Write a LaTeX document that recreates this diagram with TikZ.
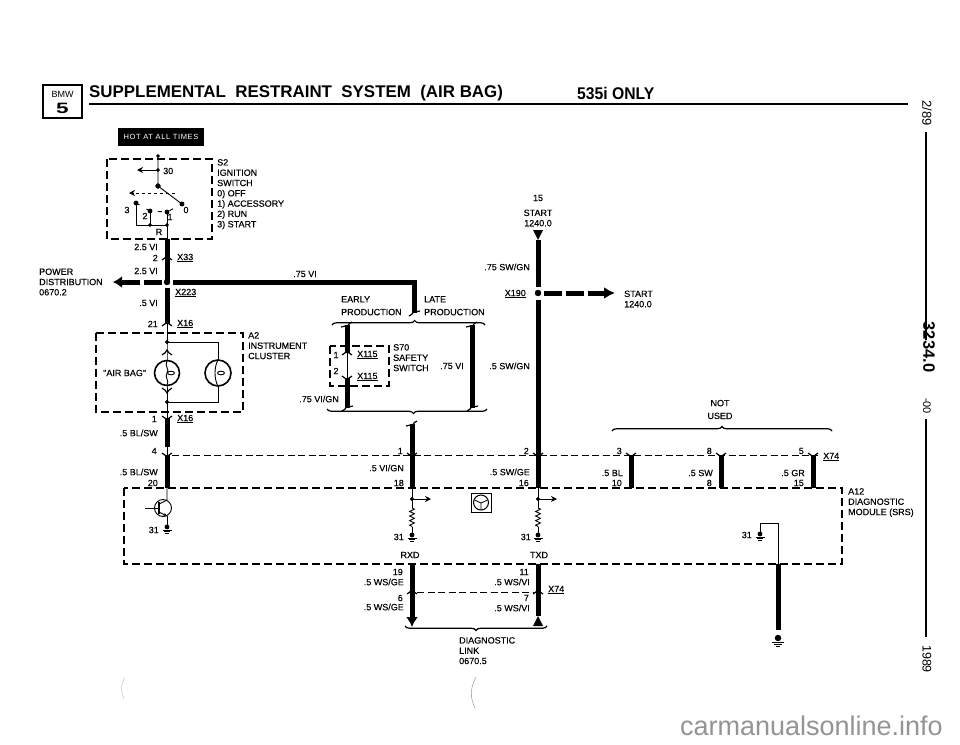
\documentclass[tikz,border=0pt]{standalone}
\usepackage{fontspec}
\setmainfont{Liberation Sans}
\newfontfamily\lblfam[FakeBold=0.25]{Liberation Sans}
\usetikzlibrary{arrows.meta,decorations.pathreplacing,decorations.pathmorphing}
\newcommand{\lblfont}{\lblfam\fontsize{9}{10.3}\selectfont}
\tikzset{
	wire/.style={line width=5pt},
	thinwire/.style={line width=0.9pt},
	boxline/.style={line width=1.5pt, dash pattern=on 8pt off 4pt},
	dashwire/.style={line width=0.8pt, dash pattern=on 7pt off 3.5pt},
	lbl/.style={font=\lblfont, inner sep=0pt, align=left},
	rlbl/.style={lbl, anchor=east},
	llbl/.style={lbl, anchor=west},
	clbl/.style={lbl, align=center},
	bracket/.style={line width=1.2pt, decorate, decoration={brace, amplitude=4.5pt, aspect=#1}},
	bracket/.default=0.5,
	sidetext/.style={inner sep=0pt, rotate=-90},
	pinup/.pic={\draw[line width=1.2pt] (-5,2) .. controls (-2,0.5) and (-1,-1) .. (0,-3) .. controls (1,-1) and (2,0.5) .. (5,2);},
	pindn/.pic={\draw[line width=1.2pt] (-5,-2) .. controls (-2,-0.5) and (-1,1) .. (0,3) .. controls (1,1) and (2,-0.5) .. (5,-2);},
	curlup/.pic={\draw[line width=1.2pt] (-6,2) .. controls (-3,3) and (-2,-1) .. (0,2) .. controls (1,-1) and (3,-2) .. (5,-3);},
	curldn/.pic={\draw[line width=1.2pt] (-5,3) .. controls (-3,2) and (-1,1) .. (0,-2) .. controls (2,1) and (3,-3) .. (6,-2);},
	gnd/.pic={\fill (0,0) circle (2.4pt);
		\draw[line width=0.7pt] (-4.5,3.2) -- (4.5,3.2) (-3.2,4.8) -- (3.2,4.8) (-1.6,6.3) -- (1.6,6.3);}
}
\begin{document}
\begin{tikzpicture}[x=1pt,y=-1pt]
	\useasboundingbox (0,0) rectangle (960,744);
	\fill[white] (0,0) rectangle (960,744);
	% header
	\draw[line width=2.2pt] (43,85) rectangle (82,118);
	\node[inner sep=0pt, font=\fontsize{9}{10}\selectfont] (badgeTop) at (62.5,94) {BMW};
	\node[inner sep=0pt, font=\bfseries\fontsize{15}{15}\selectfont, xscale=1.5] (badgeNum) at (62.5,108) {5};
	\node[anchor=west, inner sep=0pt, font=\bfseries\fontsize{16.9}{17}\selectfont] (title) at (89,93) {SUPPLEMENTAL\ \ RESTRAINT\ \ SYSTEM\ \ (AIR BAG)};
	\node[anchor=west, inner sep=0pt, xscale=0.93, font=\bfseries\fontsize{16.9}{17}\selectfont] (only) at (577,93) {535i ONLY};
	\coordinate (ruleL) at (89,104);
	\coordinate (ruleR) at (908,104);
	\draw[line width=1.6pt] (ruleL) -- (ruleR);
	\node[fill=black, text=white, inner sep=0pt, minimum width=86pt, minimum height=18pt, font=\fontsize{7.5}{8}\selectfont\addfontfeature{LetterSpace=8}] (hot) at (161,137) {HOT AT ALL TIMES};
	% side margin
	\node[sidetext, font=\fontsize{13}{13}\selectfont] (sideDate) at (927,113) {2/89};
	\node[sidetext, font=\fontsize{16.5}{17}\bfseries\selectfont, anchor=north] (sideNum) at (935,347) {3234.0};
	\node[sidetext, font=\fontsize{11}{11}\selectfont] (sideSub) at (927,406) {-00};
	\node[sidetext, font=\fontsize{12.5}{13}\selectfont] (sideYear) at (927,659) {1989};
	\draw[line width=1.2pt] (sideDate.east) ++(-1,6) -- (926,340);
	\draw[line width=1.2pt] (sideSub.east) ++(-1,5) -- (926,637);
	% ignition switch
	\draw[boxline] (107,159) rectangle (212,239);
	\coordinate (sTop) at (158,156);
	\coordinate (s30) at (158,170);
	\coordinate (sOut) at (137,170);
	\coordinate (sPiv) at (158,186);
	\coordinate (sZero) at (182,204);
	\coordinate (sThree) at (136,203);
	\coordinate (sTwo) at (150,211);
	\coordinate (sOne) at (167,212);
	\coordinate (sBend) at (136,225);
	\coordinate (sDotA) at (150,225);
	\coordinate (sDotB) at (167,225);
	\coordinate (sExit) at (167,239);
	\coordinate (sMid) at (175,193);
	\coordinate (sLeft) at (129,193);
	\draw[thinwire] (sTop) -- (sPiv) -- (sZero);
	\draw[thinwire, -{Stealth[length=6pt,width=6pt]}] (s30) -- (sOut);
	\draw[thinwire, dashed, -{Stealth[length=6pt,width=6pt]}] (sMid) -- (sLeft);
	\draw[thinwire, dash pattern=on 4pt off 8pt] (sThree) -- (sTwo) -- (sOne) -- (sZero);
	\draw[thinwire] (sThree) -- (sBend) -- (sDotB) -- (sExit);
	\draw[thinwire] (sTwo) -- (sDotA);
	\draw[thinwire] (sOne) -- (sDotB);
	\filldraw (sTop) circle (1.6pt);
	\filldraw (s30) circle (1.6pt);
	\filldraw (sPiv) circle (2.4pt);
	\filldraw (sZero) circle (2.2pt);
	\filldraw (sThree) circle (2.2pt);
	\filldraw (sTwo) circle (2.2pt);
	\filldraw (sOne) circle (2.2pt);
	\filldraw (sDotA) circle (1.6pt);
	\filldraw (sDotB) circle (1.6pt);
	\node[llbl] (t30) at (163,171) {30};
	\node[clbl] (tThree) at (127,210) {3};
	\node[clbl] (tTwo) at (145,216) {2};
	\node[clbl] (tOne) at (170,217) {1};
	\node[clbl] (tZero) at (186,210) {0};
	\node[clbl] (tR) at (159,232) {R};
	\node[lbl, anchor=north west] (s2Text) at (217,159) {S2\\IGNITION\\SWITCH\\0) OFF\\1) ACCESSORY\\2) RUN\\3) START};
	% feed down to the cluster
	\coordinate (x33) at (167,258);
	\coordinate (jPower) at (167,282);
	\coordinate (x223) at (167,288);
	\coordinate (x16a) at (167,324);
	\coordinate (a2Top) at (167,333);
	\coordinate (jLeft) at (162,282);
	\coordinate (pwrOut) at (113,282);
	\coordinate (jRight) at (173,282);
	\coordinate (vCorner) at (414,282);
	\coordinate (vEnd) at (414,313);
	\draw[wire] (sExit) -- (x33);
	\draw[wire] (x33) -- (jPower);
	\draw[wire] (x223) -- (x16a);
	\draw[thinwire] (x16a) -- (a2Top);
	\draw[wire, dash pattern=on 18pt off 4pt, -{Latex[length=9pt,width=12pt]}] (jLeft) -- (pwrOut);
	\draw[wire] (jRight) -- (vCorner) -- (vEnd);
	\filldraw (jPower) circle (3pt);
	\pic at (x33) {pinup};
	\pic at (x16a) {pinup};
	\node[rlbl] (w25a) at (158,247) {2.5 VI};
	\node[rlbl] (p2) at (158,258) {2};
	\node[llbl] (tX33) at (177,258) {\underline{X33}};
	\node[rlbl] (w25b) at (158,271) {2.5 VI};
	\node[clbl] (w75a) at (305,274) {.75 VI};
	\node[llbl] (tX223) at (175,293) {\underline{X223}};
	\node[rlbl] (w5a) at (158,303) {.5 VI};
	\node[rlbl] (p21) at (158,324) {21};
	\node[llbl] (tX16a) at (177,324) {\underline{X16}};
	\node[lbl, anchor=west] (powerText) at (39,282) {POWER\\DISTRIBUTION\\0670.2};
	% instrument cluster
	\draw[boxline] (96,333) rectangle (243,412);
	\coordinate (aTop) at (167,342);
	\coordinate (aBot) at (167,402);
	\coordinate (bTop) at (218,342);
	\coordinate (bBot) at (218,402);
	\coordinate (lampA) at (167,373);
	\coordinate (lampB) at (218,373);
	\coordinate (x16b) at (167,418);
	\coordinate (x16bEnd) at (167,447);
	\coordinate (pin4) at (167,455);
	\coordinate (pin20) at (167,488);
	\draw[thinwire] (a2Top) -- (aTop) -- (bTop) -- (bBot) -- (aBot) -- (x16b);
	\draw[thinwire] (aTop) -- (lampA) -- (aBot);
	\draw[line width=1.6pt, fill=white] (lampA) circle (12.5pt);
	\draw[line width=1.6pt, fill=white] (lampB) circle (13pt);
	\draw[thinwire] (167,361) .. controls (164,366) and (170,369) .. (167,373) .. controls (164,377) and (170,381) .. (167,385);
	\draw[thinwire] (171,373) ellipse (3.5pt and 1.8pt);
	\draw[thinwire] (218,360) .. controls (214,367) and (214,379) .. (218,386);
	\draw[thinwire] (221,373) ellipse (3.5pt and 1.8pt);
	\pic at (167,353) {pinup};
	\pic at (167,390) {pindn};
	\filldraw (aTop) circle (1.8pt);
	\filldraw (aBot) circle (1.8pt);
	\draw[wire] (x16b) -- (x16bEnd);
	\draw[thinwire] (x16bEnd) -- (pin4);
	\draw[wire] (pin4) -- (pin20);
	\pic at (x16b) {pindn};
	\pic at (pin4) {pindn};
	\node[lbl, anchor=north west] (a2Text) at (248,332) {A2\\INSTRUMENT\\CLUSTER};
	\node[llbl] (airBag) at (103,373) {"AIR BAG"};
	\node[rlbl] (p1a) at (157,419) {1};
	\node[llbl] (tX16b) at (177,419) {\underline{X16}};
	\node[rlbl] (w5b) at (158,433) {.5 BL/SW};
	\node[rlbl] (p4) at (157,451) {4};
	\node[rlbl] (w5c) at (158,472) {.5 BL/SW};
	\node[rlbl] (p20) at (158,483) {20};
	% early and late production
	\coordinate (brTopL) at (332,325);
	\coordinate (brTopR) at (485,325);
	\coordinate (brLowL) at (327,409);
	\coordinate (brLowR) at (487,409);
	\coordinate (eTop) at (347,325);
	\coordinate (eUp) at (347,353);
	\coordinate (eDn) at (347,378);
	\coordinate (eEnd) at (347,408);
	\coordinate (lTop) at (472,325);
	\coordinate (lEnd) at (472,408);
	\draw[bracket=0.54] (brTopL) -- (brTopR);
	\draw[bracket=0.46] (brLowR) -- (brLowL);
	\draw[wire] (eTop) -- (eUp);
	\draw[thinwire] (eUp) -- (eDn);
	\draw[wire] (eDn) -- (eEnd);
	\draw[wire] (lTop) -- (lEnd);
	\pic at (vEnd) {curldn};
	\pic at (eTop) {curlup};
	\pic at (lTop) {curlup};
	\pic at (eEnd) {curldn};
	\pic at (lEnd) {curldn};
	\pic at (eUp) {pinup};
	\pic at (eDn) {pindn};
	\draw[boxline] (330,346) rectangle (389,386);
	\node[lbl, anchor=north west] (earlyText) at (341,296) {EARLY\\[2.5pt]PRODUCTION};
	\node[lbl, anchor=north west] (lateText) at (424,296) {LATE\\[2.5pt]PRODUCTION};
	\node[clbl] (p1b) at (336,355) {1};
	\node[clbl] (p2b) at (336,371) {2};
	\node[llbl] (tX115a) at (357,355) {\underline{X115}};
	\node[llbl] (tX115b) at (357,377) {\underline{X115}};
	\node[lbl, anchor=north west] (s70Text) at (393,344) {S70\\SAFETY\\SWITCH};
	\node[clbl] (w75b) at (452,366) {.75 VI};
	\node[rlbl] (w75c) at (339,399) {.75 VI/GN};
	% start feed
	\coordinate (stTop) at (538,240);
	\coordinate (stMid) at (538,287);
	\coordinate (jStart) at (538,293);
	\coordinate (stLow) at (538,300);
	\coordinate (stOutA) at (544,293);
	\coordinate (stOutB) at (615,293);
	\coordinate (pinRx) at (412,455);
	\coordinate (pinTx) at (538,455);
	\coordinate (rxTop) at (412,424);
	\coordinate (rxIn) at (412,488);
	\coordinate (txIn) at (538,488);
	\fill (533,230) -- (543,230) -- (stTop) -- cycle;
	\draw[wire] (stTop) -- (stMid);
	\draw[wire] (stLow) -- (pinTx);
	\draw[wire, dash pattern=on 18pt off 4pt, -{Latex[length=11pt,width=12pt]}] (stOutA) -- (stOutB);
	\filldraw (jStart) circle (3pt);
	\draw[wire] (rxTop) -- (pinRx);
	\draw[wire] (pinRx) -- (rxIn);
	\draw[wire] (pinTx) -- (txIn);
	\pic at (rxTop) {curlup};
	\pic at (pinRx) {pindn};
	\pic at (pinTx) {pindn};
	\node[clbl] (t15) at (538,198) {15};
	\node[clbl] (startA) at (538,218) {START\\1240.0};
	\node[rlbl] (w75d) at (530,267) {.75 SW/GN};
	\node[rlbl] (tX190) at (526,294) {\underline{X190}};
	\node[lbl, anchor=west] (startB) at (624,299) {START\\1240.0};
	\node[rlbl] (w5d) at (530,366) {.5 SW/GN};
	% diagnostic module
	\coordinate (pinA) at (631,455);
	\coordinate (pinB) at (721,455);
	\coordinate (pinC) at (813,455);
	\coordinate (inA) at (631,488);
	\coordinate (inB) at (721,488);
	\coordinate (inC) at (813,488);
	\coordinate (brNuL) at (612,431);
	\coordinate (brNuR) at (832,431);
	\coordinate (dashL) at (172,455);
	\coordinate (dashR) at (818,455);
	\draw[dashwire] (dashL) -- (dashR);
	\draw[bracket] (brNuL) -- (brNuR);
	\draw[wire] (pinA) -- (inA);
	\draw[wire] (pinB) -- (inB);
	\draw[wire] (pinC) -- (inC);
	\pic at (pinA) {pindn};
	\pic at (pinB) {pindn};
	\pic at (pinC) {pindn};
	\draw[boxline] (124,488) rectangle (842,564);
	\node[clbl] (notUsed) at (720,409.5) {NOT\\[2.5pt]USED};
	\node[rlbl] (p3) at (622,451) {3};
	\node[rlbl] (p8a) at (712,451) {8};
	\node[rlbl] (p5a) at (804,451) {5};
	\node[llbl] (tX74a) at (823,457) {\underline{X74}};
	\node[rlbl] (w5e) at (623,473) {.5 BL};
	\node[rlbl] (w5f) at (713,473) {.5 SW};
	\node[rlbl] (w5g) at (805,473) {.5 GR};
	\node[rlbl] (p10) at (622,483) {10};
	\node[rlbl] (p8b) at (712,483) {8};
	\node[rlbl] (p15) at (804,483) {15};
	\node[rlbl] (p1c) at (403,451) {1};
	\node[rlbl] (w5h) at (404,468) {.5 VI/GN};
	\node[rlbl] (p18) at (404,483) {18};
	\node[rlbl] (p2c) at (529,451) {2};
	\node[rlbl] (w5i) at (530,472) {.5 SW/GE};
	\node[rlbl] (p16) at (529,483) {16};
	\node[lbl, anchor=north west] (a12Text) at (848,488) {A12\\DIAGNOSTIC\\MODULE (SRS)};
	% inside the module
	\coordinate (tEntry) at (167,500);
	\coordinate (tBase) at (145,508);
	\coordinate (tExit) at (167,516);
	\coordinate (tGnd) at (167,527);
	\draw[thinwire] (pin20) -- (tEntry) -- (159,504);
	\draw[thinwire] (tBase) -- (159,508);
	\draw[line width=1.2pt] (159,502) -- (159,514);
	\draw[thinwire, -{Stealth[length=3.5pt,width=3.5pt]}] (159,512) -- (tExit);
	\draw[thinwire] (tExit) -- (tGnd);
	\draw[thinwire] (163,508) circle (8.5pt);
	\pic at (tGnd) {gnd};
	\node[rlbl] (g31a) at (159,530) {31};
	\coordinate (rxJ) at (412,499);
	\coordinate (rxOut) at (431,499);
	\coordinate (rxA) at (412,508);
	\coordinate (rxB) at (412,527);
	\coordinate (rxGnd) at (412,535);
	\coordinate (txJ) at (538,499);
	\coordinate (txOut) at (557,499);
	\coordinate (txA) at (538,508);
	\coordinate (txB) at (538,527);
	\coordinate (txGnd) at (538,535);
	\draw[thinwire] (rxIn) -- (rxA);
	\draw[thinwire, decorate, decoration={zigzag, amplitude=2.4pt, segment length=4.6pt}] (rxA) -- (rxB);
	\draw[thinwire] (rxB) -- (rxGnd);
	\draw[thinwire, -{Stealth[length=6pt,width=6pt]}] (rxJ) -- (rxOut);
	\filldraw (rxJ) circle (1.8pt);
	\pic at (rxGnd) {gnd};
	\draw[thinwire] (txIn) -- (txA);
	\draw[thinwire, decorate, decoration={zigzag, amplitude=2.4pt, segment length=4.6pt}] (txA) -- (txB);
	\draw[thinwire] (txB) -- (txGnd);
	\draw[thinwire, -{Stealth[length=6pt,width=6pt]}] (txJ) -- (txOut);
	\filldraw (txJ) circle (1.8pt);
	\pic at (txGnd) {gnd};
	\node[rlbl] (g31b) at (404,537) {31};
	\node[rlbl] (g31c) at (531,537) {31};
	\node[clbl] (rxd) at (410,555) {RXD};
	\node[clbl] (txd) at (539,555) {TXD};
	% wheel symbol
	\draw[line width=0.7pt] (471,493) rectangle (491,512);
	\draw[line width=1pt] (481,502.5) circle (7.5pt);
	\draw[line width=0.8pt] (474.5,500) -- (481,503) -- (487.5,500) (481,503) -- (481,510);
	% module ground and body ground
	\coordinate (mOut) at (778,564);
	\coordinate (mUp) at (778,523);
	\coordinate (mLeft) at (760,523);
	\coordinate (mGnd) at (760,534);
	\coordinate (mEnd) at (778,630);
	\coordinate (bodyGnd) at (778,638);
	\draw[thinwire] (mOut) -- (mUp) -- (mLeft) -- (mGnd);
	\pic at (mGnd) {gnd};
	\draw[wire] (mOut) -- (mEnd);
	\pic[scale=1.35] at (bodyGnd) {gnd};
	\node[rlbl] (g31d) at (752,535) {31};
	% diagnostic link
	\coordinate (rxOutA) at (412,564);
	\coordinate (rxPin) at (412,592);
	\coordinate (rxTip) at (412,627);
	\coordinate (txOutA) at (538,564);
	\coordinate (txPin) at (538,592);
	\coordinate (txTip) at (538,616);
	\coordinate (linkL) at (417,592);
	\coordinate (linkR) at (533,592);
	\coordinate (brDiR) at (547,626);
	\coordinate (brDiL) at (405,626);
	\draw[wire] (rxOutA) -- (rxPin);
	\draw[wire, -{Latex[length=10pt,width=12pt]}] (rxPin) -- (rxTip);
	\draw[wire] (txOutA) -- (txPin);
	\draw[wire] (txPin) -- (txTip);
	\fill (533,626) -- (543,626) -- (txTip) -- cycle;
	\draw[dashwire] (linkL) -- (linkR);
	\pic at (rxPin) {pinup};
	\pic at (txPin) {pinup};
	\draw[bracket] (brDiR) -- (brDiL);
	\node[rlbl] (p19) at (403,572) {19};
	\node[rlbl] (w5j) at (404,582) {.5 WS/GE};
	\node[rlbl] (p6) at (403,598) {6};
	\node[rlbl] (w5k) at (404,607) {.5 WS/GE};
	\node[rlbl] (p11) at (529,572) {11};
	\node[rlbl] (w5l) at (530,582) {.5 WS/VI};
	\node[rlbl] (p7) at (529,598) {7};
	\node[rlbl] (w5m) at (530,608) {.5 WS/VI};
	\node[llbl] (tX74b) at (548,590) {\underline{X74}};
	\node[lbl, anchor=north west] (linkText) at (459,637) {DIAGNOSTIC\\LINK\\0670.5};
	% marks on the page
	\draw[gray!45, line width=0.5pt] (125,678) .. controls (119,686) and (122,694) .. (124,699);
	\draw[gray!70, line width=0.6pt] (476,677) .. controls (470,688) and (470,698) .. (475,708);
	\node[anchor=base east, inner sep=0pt, text=black!42, font=\fontsize{27}{27}\selectfont] (siteMark) at (943,735) {carmanualsonline.info};
\end{tikzpicture}
\end{document}
